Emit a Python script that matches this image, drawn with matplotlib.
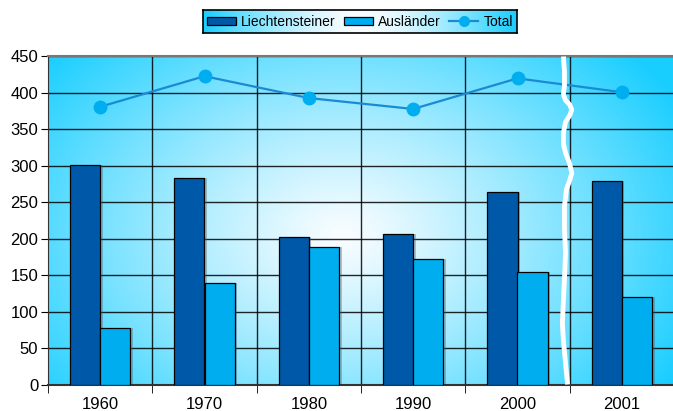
import matplotlib.pyplot as plt
import numpy as np
from matplotlib.patches import Patch
from matplotlib.lines import Line2D

plt.rcParams['font.family'] = ['Liberation Sans', 'DejaVu Sans']

years = ["1960", "1970", "1980", "1990", "2000", "2001"]
liechtensteiner = [301, 283, 203, 206, 264, 279]
auslaender = [77, 139, 188, 172, 155, 120]
total = [381, 423, 393, 378, 420, 401]

DARK = "#0059A8"
LIGHT = "#00AEEF"
EDGE_CYAN = np.array([0x18, 0xCE, 0xFF]) / 255
CENTER = np.array([0xFA, 0xFD, 0xFF]) / 255

fig = plt.figure(figsize=(6.73, 4.11), dpi=100)
ax = fig.add_axes([48 / 673, 26.5 / 411, 626 / 673, 328 / 411])

# radial background
yy, xx = np.mgrid[0:1:300j, 0:1:500j]
d = np.sqrt(((xx - 0.47) / 0.62) ** 2 + ((yy - 0.55) / 0.85) ** 2)
d = np.clip(d, 0, 1) ** 1.15
img = CENTER[None, None, :] * (1 - d[..., None]) + EDGE_CYAN[None, None, :] * d[..., None]
ax.imshow(img, extent=[0, 1, 0, 1], transform=ax.transAxes, aspect="auto",
          origin="upper", zorder=0)

x = np.arange(len(years))
w = 0.29
# faint shadows behind bars
ax.bar(x - w / 2 + 0.025, liechtensteiner, w, color="#555555", alpha=0.35, linewidth=0, zorder=2)
ax.bar(x + w / 2 + 0.025, auslaender, w, color="#555555", alpha=0.35, linewidth=0, zorder=2)
ax.bar(x - w / 2, liechtensteiner, w, color=DARK, edgecolor="black", linewidth=0.9, zorder=3)
ax.bar(x + w / 2, auslaender, w, color=LIGHT, edgecolor="black", linewidth=0.9, zorder=3)
ax.plot(x, total, color="#1A8AD4", linewidth=1.6, marker="o", markersize=9,
        markerfacecolor=LIGHT, markeredgecolor=LIGHT, zorder=4)

ax.set_xlim(-0.5, 5.5)
ax.set_ylim(0, 450)
ax.set_yticks(range(0, 451, 50))
ax.set_xticks(x)
ax.set_xticklabels(years)
ax.set_xticks(np.arange(-0.5, 5.6, 1), minor=True)
ax.tick_params(axis="x", which="major", length=0, labelsize=12, pad=9)
ax.tick_params(axis="x", which="minor", length=6, direction="out", color="black")
ax.tick_params(axis="y", length=5, direction="out", labelsize=12, pad=2)

for v in range(50, 451, 50):
    ax.axhline(v, color="black", linewidth=1, alpha=0.85, zorder=1)
for b in np.arange(0.5, 5.0, 1):
    ax.axvline(b, color="black", linewidth=1, alpha=0.85, zorder=1)

for s in ["left", "bottom"]:
    ax.spines[s].set_color("#333333")
ax.spines["top"].set_color("#777777")
ax.spines["right"].set_visible(False)
ax.spines["top"].set_linewidth(1.5)
ax.spines["bottom"].set_linewidth(1.5)

# axis break (white wavy line)
bx = [4.44, 4.45, 4.45, 4.44, 4.46, 4.50, 4.52, 4.50, 4.46, 4.44, 4.44, 4.46,
      4.50, 4.52, 4.50, 4.47, 4.45, 4.45, 4.46, 4.45, 4.44, 4.43, 4.44, 4.46, 4.48]
by = [450, 430, 410, 398, 390, 384, 377, 369, 360, 345, 330, 318,
      303, 290, 280, 268, 245, 215, 180, 145, 115, 84, 60, 30, 0]
ax.plot(bx, by, color="white", linewidth=3.5, zorder=5, solid_capstyle="butt",
        solid_joinstyle="round", clip_on=False)

# legend with gradient box
lx0, ly0, lw_, lh = 203 / 673, (411 - 33) / 411, 314 / 673, 23 / 411
lax = fig.add_axes([lx0, ly0, lw_, lh])
gx = np.linspace(-1, 1, 400)
gd = np.abs(gx) ** 1.5
gimg = CENTER[None, :] * (1 - gd[:, None]) + EDGE_CYAN[None, :] * gd[:, None]
lax.imshow(gimg[None, :, :], extent=[0, 1, 0, 1], aspect="auto")
lax.set_xticks([])
lax.set_yticks([])
for s in lax.spines.values():
    s.set_color("black")
    s.set_linewidth(1.2)

handles = [
    Patch(facecolor=DARK, edgecolor="black", linewidth=0.9, label="Liechtensteiner"),
    Patch(facecolor=LIGHT, edgecolor="black", linewidth=0.9, label="Ausländer"),
    Line2D([0], [0], color="#1A8AD4", linewidth=1.6, marker="o", markersize=7,
           markerfacecolor=LIGHT, markeredgecolor=LIGHT, label="Total"),
]
lax.legend(handles=handles, loc="center", ncol=3, frameon=False, fontsize=10,
           handlelength=2.1, handleheight=0.5, handletextpad=0.35, columnspacing=0.6,
           borderaxespad=0)

fig.savefig("out.png", dpi=100)
